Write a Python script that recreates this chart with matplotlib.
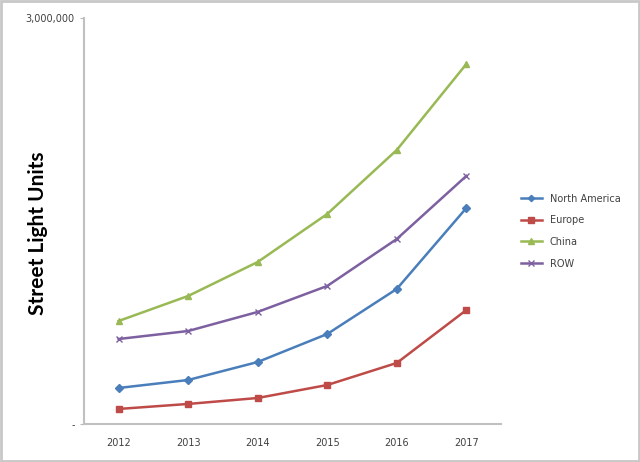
import numpy as np
import matplotlib.pyplot as plt
from matplotlib.patches import Rectangle
from matplotlib.ticker import FuncFormatter

years = ['2012', '2013', '2014', '2015', '2016', '2017']
north_america = [266000, 325000, 458000, 665000, 998000, 1596000]
europe = [111000, 148000, 192000, 288000, 451000, 842000]
china = [761000, 946000, 1197000, 1552000, 2025000, 2660000]
row = [628000, 687000, 828000, 1020000, 1367000, 1833000]

fig = plt.figure(figsize=(6.4, 4.62), dpi=100)
ax = fig.add_axes([0.131, 0.0823, 0.652, 0.8787])

x = np.arange(len(years))
ax.plot(x, north_america, color='#4A7EBB', marker='D', markersize=4, linewidth=1.8, label='North America')
ax.plot(x, europe, color='#BE4B48', marker='s', markersize=5, linewidth=1.8, label='Europe')
ax.plot(x, china, color='#98B954', marker='^', markersize=5, linewidth=1.8, label='China')
ax.plot(x, row, color='#7D60A0', marker='x', markersize=5, linewidth=1.8, label='ROW')

ax.set_xlim(-0.5, 5.5)
ax.set_ylim(0, 3000000)
ax.set_xticks(x)
ax.set_xticklabels(years)
ax.set_yticks([0, 3000000])
ax.yaxis.set_major_formatter(FuncFormatter(lambda v, p: '-' if v == 0 else f'{int(v):,}'))
ax.tick_params(axis='both', labelsize=7, colors='#404040', length=3)
ax.tick_params(axis='x', length=0, pad=10)
ax.tick_params(axis='y', color='#b8b8b8')

for s in ['top', 'right']:
    ax.spines[s].set_visible(False)
for s in ['left', 'bottom']:
    ax.spines[s].set_color('#c0c0c0')
    ax.spines[s].set_linewidth(1.5)

# y label placed by hand so the long tick label does not push it out
fig.text(38 / 640, 1 - 233 / 462, 'Street Light Units', rotation=90, fontsize=15,
         fontweight='bold', family='Lato', ha='center', va='center')

fig.legend(loc='upper left', bbox_to_anchor=(0.8, 0.6), frameon=False, fontsize=7,
           handlelength=2.2, labelspacing=1.2, labelcolor='#404040', markerscale=0.8)

# chart border
fig.add_artist(Rectangle((0.002, 0.003), 0.996, 0.994, transform=fig.transFigure,
                         fill=False, edgecolor='#c8c8c8', linewidth=2))

fig.savefig('out.png', dpi=100)
